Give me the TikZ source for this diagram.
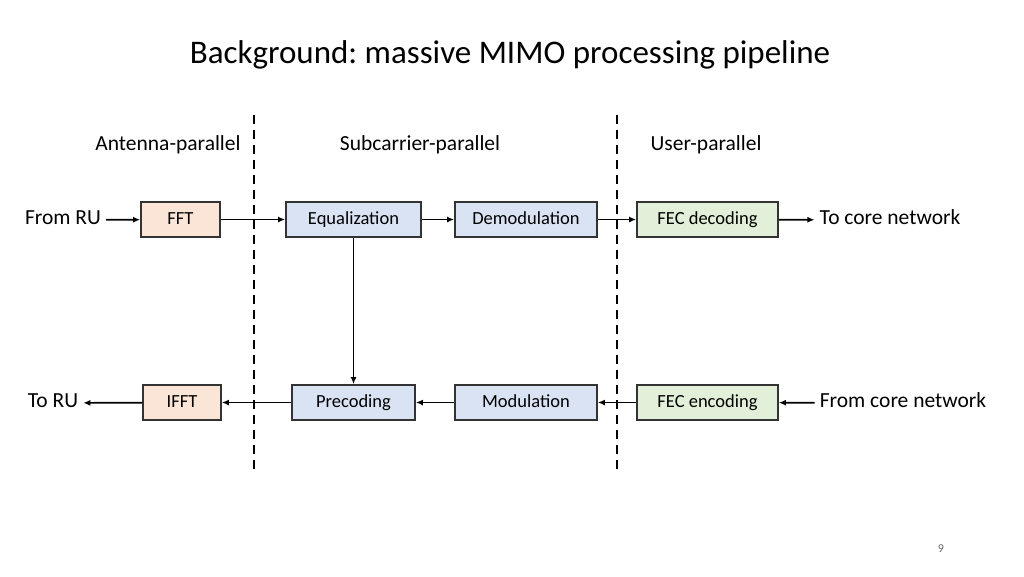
\documentclass[tikz,border=0pt]{standalone}
\usepackage{fontspec}
\setmainfont{Carlito}
\usetikzlibrary{positioning,arrows.meta}
\definecolor{fftfill}{HTML}{FBE5D6}
\definecolor{subfill}{HTML}{DAE3F3}
\definecolor{userfill}{HTML}{E2F0D9}
\frenchspacing
\begin{document}
\begin{tikzpicture}[x=1pt,y=-1pt,
  blk/.style={draw=black!80, line width=1.8pt, minimum height=35pt, inner sep=0pt, text height=1.0em, text depth=0.1em, font=\fontsize{18.5}{21}\selectfont},
  lbl/.style={font=\fontsize{21.5}{25}\selectfont, text height=1.05em, text depth=0.1em, inner xsep=5pt},
  arr/.style={-{Latex[length=7pt,width=6pt]}, line width=1.7pt},
  sep/.style={line width=2pt, dash pattern=on 9pt off 6pt}]
\useasboundingbox (0,0) rectangle (1024,576);

\node[font=\fontsize{33}{38}\selectfont] (title) at (510,55) {Background: massive MIMO processing pipeline};

% region labels
\node[lbl] (antl) at (168,146) {Antenna-parallel};
\node[lbl] (subl) at (420,146) {Subcarrier-parallel};
\node[lbl] (usrl) at (706,146) {User-parallel};

% separators
\coordinate (d1a) at (254,115); \coordinate (d1b) at (254,470);
\coordinate (d2a) at (617,115); \coordinate (d2b) at (617,470);
\draw[sep] (d1a) -- (d1b);
\draw[sep] (d2a) -- (d2b);

% uplink row
\node[blk, fill=fftfill, minimum width=79pt] (fft) at (180.5,219.5) {FFT};
\node[blk, fill=subfill, minimum width=135pt] (eq) at (353.5,219.5) {Equalization};
\node[blk, fill=subfill, minimum width=142pt] (demod) at (526,219.5) {Demodulation};
\node[blk, fill=userfill, minimum width=141pt] (fecd) at (707.5,219.5) {FEC decoding};
\node[lbl] (fromru) at (63,220) {From RU};
\node[lbl] (tocore) at (890,220) {To core network};

% downlink row
\node[blk, fill=fftfill, minimum width=78pt] (ifft) at (182,402.5) {IFFT};
\node[blk, fill=subfill, minimum width=123pt] (prec) at (353.5,402.5) {Precoding};
\node[blk, fill=subfill, minimum width=142pt] (mod) at (526,402.5) {Modulation};
\node[blk, fill=userfill, minimum width=141pt] (fece) at (707.5,402.5) {FEC encoding};
\node[lbl] (toru) at (53,403) {To RU};
\node[lbl] (fromcore) at (903,403) {From core network};

\draw[arr] (fromru) -- (fft);
\draw[arr] (fft) -- (eq);
\draw[arr] (eq) -- (demod);
\draw[arr] (demod) -- (fecd);
\draw[arr] (fecd) -- (tocore);
\draw[arr] (eq) -- (prec);
\draw[arr] (fromcore) -- (fece);
\draw[arr] (fece) -- (mod);
\draw[arr] (mod) -- (prec);
\draw[arr] (prec) -- (ifft);
\draw[arr] (ifft) -- (toru);

\node[font=\fontsize{12}{14}\selectfont, text=black!60] (pg) at (941,549) {9};
\end{tikzpicture}
\end{document}
